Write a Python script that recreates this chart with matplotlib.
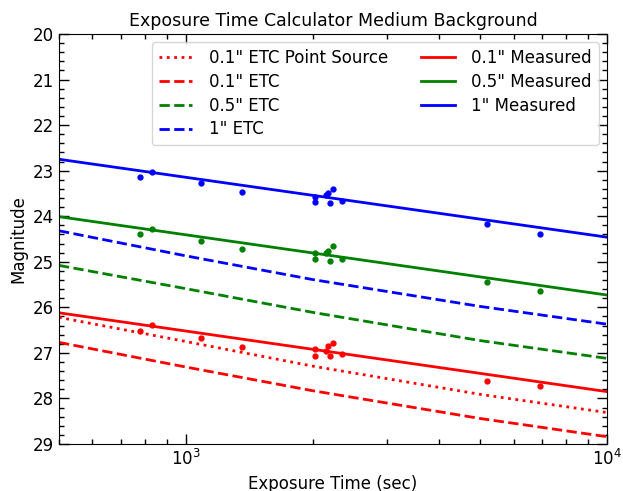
import matplotlib
matplotlib.use("Agg")
import matplotlib.pyplot as plt

# exposure times of the measured points (sec)
t_meas = [778, 832, 1085, 1360, 2030, 2030, 2150, 2176, 2204, 2240, 2345, 5200, 6945]
mag_01 = [26.52, 26.39, 26.67, 26.87, 26.92, 27.07, 26.96, 26.85, 27.07, 26.78, 27.03, 27.61, 27.72]
mag_05 = [24.40, 24.28, 24.54, 24.73, 24.81, 24.95, 24.81, 24.76, 24.98, 24.66, 24.93, 25.45, 25.65]
mag_1 = [23.13, 23.02, 23.26, 23.46, 23.58, 23.68, 23.53, 23.50, 23.72, 23.41, 23.67, 24.17, 24.39]

# fitted measured lines
t_fit = [500, 10000]
fit_01 = [26.12, 27.85]
fit_05 = [24.01, 25.73]
fit_1 = [22.75, 24.46]

# ETC predictions
t_etc = [500, 1000, 2000, 5000, 10000]
etc_point = [26.22, 26.75, 27.29, 27.91, 28.31]
etc_01 = [26.77, 27.31, 27.83, 28.44, 28.84]
etc_05 = [25.08, 25.59, 26.11, 26.73, 27.12]
etc_1 = [24.32, 24.87, 25.39, 25.98, 26.37]

fig = plt.figure(figsize=(6.23, 4.91), dpi=100)
ax = fig.add_subplot(111)
fig.subplots_adjust(left=0.0947, right=0.9743, top=0.9308, bottom=0.0957)

ax.plot(t_etc, etc_point, ':', c='red', lw=2, label='0.1" ETC Point Source')
ax.plot(t_etc, etc_01, '--', c='red', lw=2, label='0.1" ETC')
ax.plot(t_etc, etc_05, '--', c='green', lw=2, label='0.5" ETC')
ax.plot(t_etc, etc_1, '--', c='blue', lw=2, label='1" ETC')
ax.plot(t_fit, fit_01, '-', c='red', lw=2, label='0.1" Measured')
ax.plot(t_fit, fit_05, '-', c='green', lw=2, label='0.5" Measured')
ax.plot(t_fit, fit_1, '-', c='blue', lw=2, label='1" Measured')

ax.plot(t_meas, mag_01, 'o', c='red', ms=3.5)
ax.plot(t_meas, mag_05, 'o', c='green', ms=3.5)
ax.plot(t_meas, mag_1, 'o', c='blue', ms=3.5)

ax.set_xscale('log')
ax.set_xlim(500, 10000)
ax.set_ylim(29, 20)
ax.set_yticks(range(20, 30))
ax.minorticks_on()
ax.tick_params(direction='in', which='major', length=7, width=1,
               bottom=True, top=True, left=True, right=True, labelsize=12)
ax.tick_params(direction='in', which='minor', length=3.6, width=1,
               bottom=True, top=True, left=True, right=True)
ax.set_xlabel('Exposure Time (sec)', fontsize=12)
ax.set_ylabel('Magnitude', fontsize=12)
ax.set_title('Exposure Time Calculator Medium Background', fontsize=12.5)
ax.legend(loc='upper right', ncol=2, fontsize=12, labelspacing=0.35,
          handletextpad=1.0)

fig.savefig('out.png', dpi=100)
